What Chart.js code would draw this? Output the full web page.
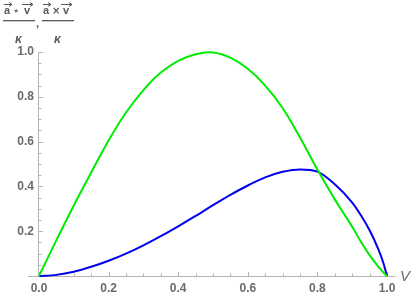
<!DOCTYPE html>
<html>
<head>
<meta charset="utf-8">
<script src="https://cdn.jsdelivr.net/npm/chart.js@4.4.0/dist/chart.umd.min.js"></script>
<style>
  html, body { margin: 0; padding: 0; background: #fff; }
</style>
</head>
<body>
<canvas id="chart" width="415" height="297"></canvas>
<script>
// speed V on the x axis
const speeds = [0, 0.05, 0.1, 0.15, 0.2, 0.25, 0.3, 0.35, 0.4, 0.45, 0.5,
  0.55, 0.6, 0.65, 0.7, 0.75, 0.8, 0.85, 0.9, 0.925, 0.95, 0.975, 0.99, 1];
// green curve: a.v / kappa
const dotValues = [0, 0.16, 0.315, 0.462, 0.605, 0.73, 0.83, 0.908, 0.96, 0.99, 0.998,
  0.975, 0.925, 0.85, 0.75, 0.618, 0.475, 0.342, 0.22, 0.153, 0.093, 0.042, 0.015, 0];
// blue curve: a x v / kappa
const crossValues = [0, 0.005, 0.019, 0.041, 0.068, 0.1, 0.137, 0.178, 0.222, 0.268, 0.316,
  0.362, 0.404, 0.44, 0.465, 0.476, 0.466, 0.41, 0.328, 0.271, 0.204, 0.12, 0.056, 0];

const xTicks = [0, 0.2, 0.4, 0.6, 0.8, 1.0];
const xTickLabels = ['0.0', '0.2', '0.4', '0.6', '0.8', '1.0'];
const yTicks = [0.2, 0.4, 0.6, 0.8, 1.0];
const yTickLabels = ['0.2', '0.4', '0.6', '0.8', '1.0'];
const minorStep = 0.05;

const toPoints = (ys) => speeds.map((v, i) => ({ x: v, y: ys[i] }));

// Mathematica-like axes with inside ticks
const axesPlugin = {
  id: 'mmaAxes',
  beforeDatasetsDraw(chart) {
    const { ctx, scales: { x, y } } = chart;
    const x0 = x.getPixelForValue(0);
    const y0 = y.getPixelForValue(0);
    ctx.save();
    ctx.strokeStyle = '#b4b4b4';
    ctx.lineWidth = 1;
    ctx.beginPath();
    ctx.moveTo(28, y0 + 0.5);
    ctx.lineTo(395, y0 + 0.5);
    ctx.moveTo(x0 - 0.5, y0);
    ctx.lineTo(x0 - 0.5, y.getPixelForValue(1));
    // minor + major ticks
    for (let i = 0; i <= 20; i++) {
      const v = i * minorStep;
      const major = i % 4 === 0;
      const len = major ? 4 : 2.5;
      const px = Math.round(x.getPixelForValue(v)) + 0.5;
      ctx.moveTo(px, y0);
      ctx.lineTo(px, y0 - len);
      if (i > 0) {
        const py = Math.round(y.getPixelForValue(v)) + 0.5;
        ctx.moveTo(x0, py);
        ctx.lineTo(x0 + len, py);
      }
    }
    ctx.stroke();

    ctx.fillStyle = '#6b6b6b';
    ctx.font = 'bold 12px "Liberation Sans", Arial, sans-serif';
    ctx.textAlign = 'center';
    ctx.textBaseline = 'middle';
    xTicks.forEach((v, i) => {
      ctx.fillText(xTickLabels[i], x.getPixelForValue(v), y0 + 13);
    });
    ctx.textAlign = 'right';
    yTicks.forEach((v, i) => {
      ctx.fillText(yTickLabels[i], x0 - 5, y.getPixelForValue(v));
    });

    // axis label V
    ctx.textAlign = 'left';
    ctx.textBaseline = 'alphabetic';
    ctx.font = 'italic 15px "Liberation Sans", Arial, sans-serif';
    ctx.fillText('V', 400, 281);

    // y label: two fractions with vector arrows
    const drawArrow = (xa, xb, ya) => {
      ctx.beginPath();
      ctx.moveTo(xa, ya);
      ctx.lineTo(xb, ya);
      ctx.moveTo(xb - 3, ya - 2);
      ctx.lineTo(xb, ya);
      ctx.lineTo(xb - 3, ya + 2);
      ctx.stroke();
    };
    const drawFraction = (left, op) => {
      ctx.fillStyle = '#5a5a5a';
      ctx.strokeStyle = '#5a5a5a';
      ctx.lineWidth = 1;
      ctx.font = 'bold 11px "Liberation Sans", Arial, sans-serif';
      ctx.textAlign = 'left';
      ctx.fillText('a', left + 1, 14);
      ctx.font = 'bold 10px "DejaVu Sans", sans-serif';
      ctx.fillText(op, left + 10, 14);
      ctx.font = 'bold 11px "Liberation Sans", Arial, sans-serif';
      ctx.fillText('v', left + 21, 14);
      drawArrow(left + 1, left + 9, 4.5);
      drawArrow(left + 19, left + 30, 4.5);
      ctx.fillRect(left, 20, 32, 1.3);
      ctx.font = 'italic bold 12px "Liberation Sans", Arial, sans-serif';
      ctx.fillText('κ', left + 12, 43);
    };
    drawFraction(3, '⋆');
    ctx.font = 'bold 11px "Liberation Sans", Arial, sans-serif';
    ctx.fillText(',', 36, 27);
    drawFraction(42, '×');
    ctx.restore();
  }
};

new Chart(document.getElementById('chart'), {
  type: 'line',
  data: {
    datasets: [
      {
        label: 'a.v/k',
        data: toPoints(dotValues),
        borderColor: '#00ec00',
        borderWidth: 2,
        pointRadius: 0,
        tension: 0.4,
        clip: false,
      },
      {
        label: 'axv/k',
        data: toPoints(crossValues),
        borderColor: '#0000ee',
        borderWidth: 2,
        pointRadius: 0,
        cubicInterpolationMode: 'monotone',
        clip: false,
      },
    ],
  },
  options: {
    responsive: false,
    animation: false,
    devicePixelRatio: 1,
    layout: { padding: { left: 39, right: 28, top: 52, bottom: 21 } },
    plugins: { legend: { display: false }, tooltip: { enabled: false } },
    scales: {
      x: { type: 'linear', min: 0, max: 1, display: false },
      y: { min: 0, max: 1, display: false },
    },
  },
  plugins: [axesPlugin],
});
</script>
</body>
</html>
